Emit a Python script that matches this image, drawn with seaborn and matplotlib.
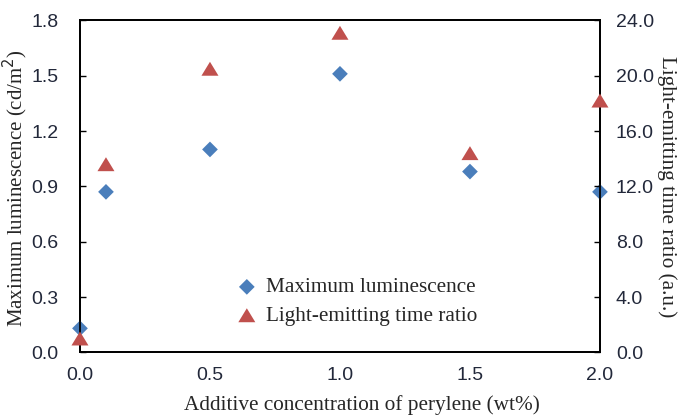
import matplotlib
matplotlib.use("Agg")
import matplotlib.pyplot as plt
import seaborn as sns
import pandas as pd
from matplotlib.ticker import FormatStrFormatter, MultipleLocator

concentration = [0.0, 0.1, 0.5, 1.0, 1.5, 2.0]
max_luminescence = [0.13, 0.87, 1.10, 1.51, 0.98, 0.87]
time_ratio = [1.0, 13.6, 20.5, 23.1, 14.4, 18.2]

df = pd.DataFrame({"conc": concentration, "lum": max_luminescence, "ratio": time_ratio})

sns.set_style("white")
plt.rcParams["xtick.direction"] = "in"
plt.rcParams["ytick.direction"] = "in"

serif = ["Liberation Serif", "DejaVu Serif"]
sans = ["Liberation Sans", "DejaVu Sans"]
tick_color = "#22283a"

fig = plt.figure(figsize=(6.8, 4.15), dpi=100)
ax = fig.add_axes([0.1176, 0.151, 0.7647, 0.800])
ax2 = ax.twinx()

blue = "#4A7EBB"
red = "#C0504D"
tri = [(0, 0.82), (-1, -0.82), (1, -0.82)]

sns.scatterplot(data=df, x="conc", y="lum", ax=ax, marker="D", s=64, color=blue,
                edgecolor="none", clip_on=False, zorder=5, label="Maximum luminescence", legend=False)
sns.scatterplot(data=df, x="conc", y="ratio", ax=ax2, marker=tri, s=150, color=red,
                edgecolor="none", clip_on=False, zorder=5, label="Light-emitting time ratio", legend=False)

ax.set_xlim(0, 2.0)
ax.set_ylim(0, 1.8)
ax2.set_ylim(0, 24)
ax.xaxis.set_major_locator(MultipleLocator(0.5))
ax.yaxis.set_major_locator(MultipleLocator(0.3))
ax2.yaxis.set_major_locator(MultipleLocator(4))
ax.xaxis.set_major_formatter(FormatStrFormatter("%.1f"))
ax.yaxis.set_major_formatter(FormatStrFormatter("%.1f"))
ax2.yaxis.set_major_formatter(FormatStrFormatter("%.1f"))

for a in (ax, ax2):
    for sp in a.spines.values():
        sp.set_linewidth(1.3)
        sp.set_color("black")
ax.tick_params(axis="y", direction="in", length=4, width=1, color="black",
               labelsize=14, labelcolor=tick_color, pad=15.5)
ax.tick_params(axis="x", direction="in", length=4, width=1, color="black",
               labelsize=14, labelcolor=tick_color, pad=10.5)
ax2.tick_params(axis="y", direction="in", length=4, width=1, color="black",
                labelsize=14, labelcolor=tick_color, pad=11.5)
for lab in ax.get_xticklabels() + ax.get_yticklabels() + ax2.get_yticklabels():
    lab.set_family(sans)

ax.set_xlabel("Additive concentration of perylene (wt%)", family=serif, fontsize=15.3)
ax.xaxis.set_label_coords(0.542, -0.13)
ax.set_ylabel("Maximum luminescence (cd/m$^2$)", family=serif, fontsize=15)
ax.yaxis.set_label_coords(-0.096, 0.495)
ax2.set_ylabel("Light-emitting time ratio (a.u.)", family=serif, fontsize=15.3, rotation=270, labelpad=16)

h1, l1 = ax.get_legend_handles_labels()
h2, l2 = ax2.get_legend_handles_labels()
ax2.legend(h1 + h2, l1 + l2, loc="center", bbox_to_anchor=(0.523, 0.273),
           bbox_transform=fig.transFigure, frameon=False,
           prop={"family": serif, "size": 15.3}, handletextpad=0.3, labelspacing=0.4,
           handlelength=1.2)

fig.savefig("out.png", dpi=100)
